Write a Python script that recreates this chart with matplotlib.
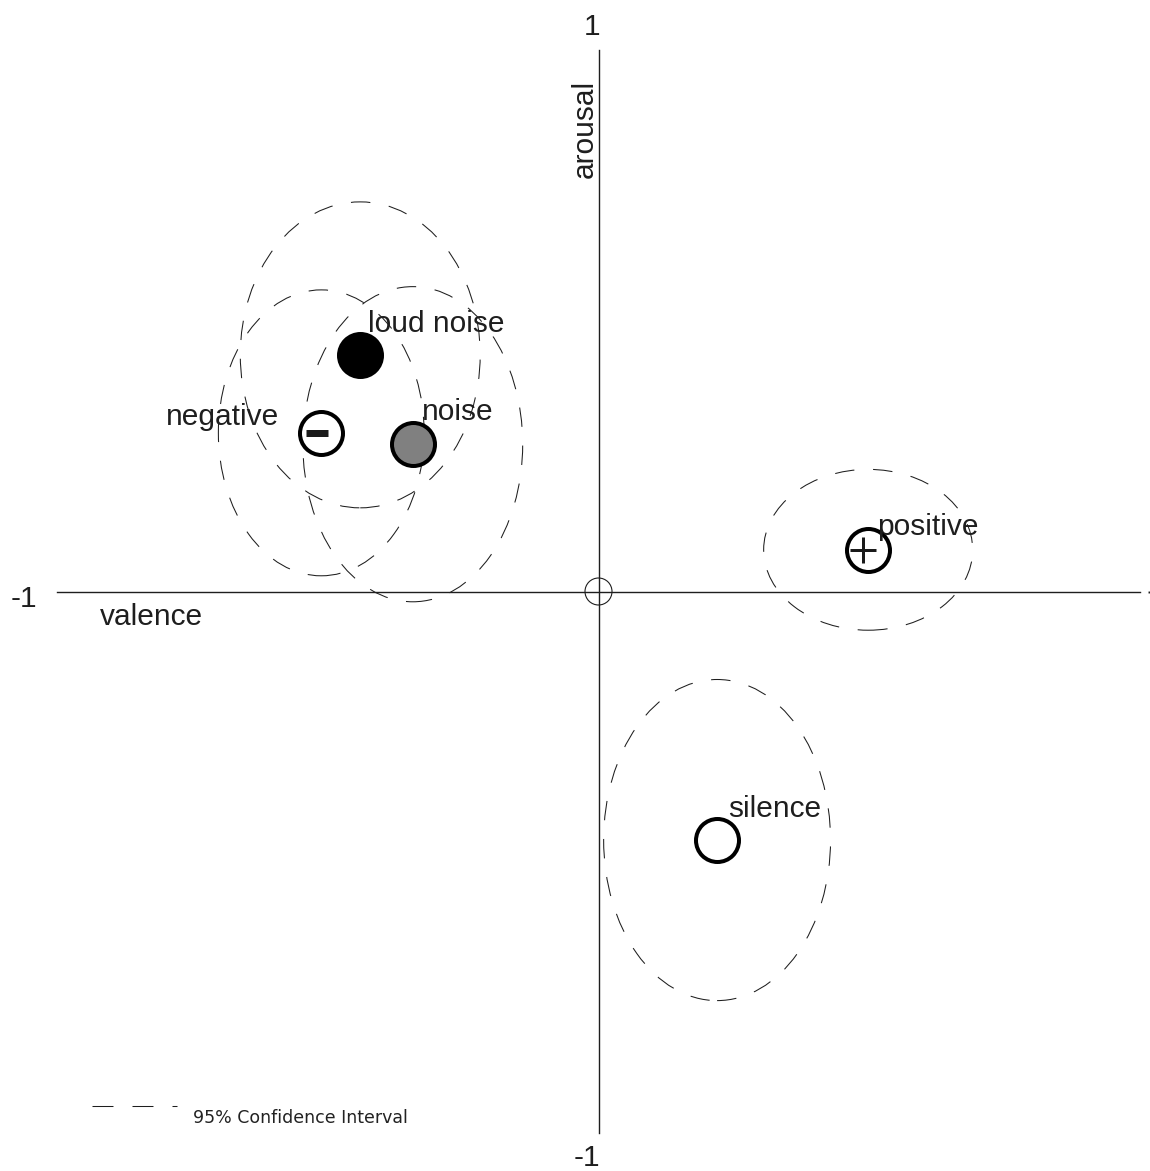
import matplotlib
matplotlib.use("Agg")
import matplotlib.pyplot as plt
from matplotlib.patches import Ellipse
from matplotlib.lines import Line2D
from matplotlib import transforms

plt.rcParams['lines.scale_dashes'] = False

# condition means in the valence/arousal plane
conditions = ["loud noise", "negative", "noise", "positive", "silence"]
valence = [-0.440, -0.512, -0.343, 0.498, 0.219]
arousal = [0.437, 0.293, 0.272, 0.077, -0.459]
# 95% confidence ellipse extents (full width along valence, full height along arousal)
ci_width = [0.443, 0.380, 0.406, 0.386, 0.419]
ci_height = [0.565, 0.528, 0.582, 0.297, 0.593]

face = {"loud noise": "black", "negative": "white", "noise": "#808080",
        "positive": "white", "silence": "white"}
# label offsets from the marker (points) and alignment
label_pos = {"loud noise": ((5.8, 16.6), "left"),
             "negative": ((-30.0, 5.8), "right"),
             "noise": ((6.5, 17.3), "left"),
             "positive": ((6.5, 10.8), "left"),
             "silence": ((7.9, 16.6), "left")}

W, H, DPI = 1150, 1171, 100
PX = 541.5  # pixels per unit
fig = plt.figure(figsize=(W / DPI, H / DPI), dpi=DPI)
ax = fig.add_axes([0, 0, 1, 1])
ax.set_xlim(-598.5 / PX, (W - 598.5) / PX)
ax.set_ylim(-(H - 591.5) / PX, 591.5 / PX)
ax.axis("off")

ink = "#1e1e1e"
lab_font = dict(family=["Liberation Sans", "DejaVu Sans"], size=21.5, color=ink)

# axes cross
ax.plot([-1, 1], [0, 0], color=ink, lw=1.0, zorder=1)
ax.plot([0, 0], [-1, 1], color=ink, lw=1.0, zorder=1)
ax.plot([1.0166], [0], marker="s", ms=1.4, color=ink, mew=0)
ax.scatter([0], [0], s=(27 * 0.72) ** 2, facecolors="none", edgecolors=ink,
           linewidths=0.8, zorder=2)

# confidence ellipses
for x, y, w, h in zip(valence, arousal, ci_width, ci_height):
    ax.add_patch(Ellipse((x, y), w, h, fill=False, edgecolor=ink, lw=0.75,
                         linestyle=(0, (14.0, 13.5)), zorder=3))

# condition markers
for name, x, y in zip(conditions, valence, arousal):
    ax.scatter([x], [y], s=(43 * 0.72) ** 2, facecolors=face[name],
               edgecolors="black", linewidths=4 * 0.72, zorder=4)
    (dx, dy), ha = label_pos[name]
    ax.annotate(name, (x, y), xytext=(dx, dy), textcoords="offset points",
                ha=ha, va="baseline", zorder=5, **lab_font)

# signs inside the negative / positive markers
i_neg = conditions.index("negative")
i_pos = conditions.index("positive")
t_neg = transforms.offset_copy(ax.transData, fig=fig, x=-4, y=0, units="dots")
t_pos = transforms.offset_copy(ax.transData, fig=fig, x=-5, y=0, units="dots")
ax.plot([valence[i_neg]], [arousal[i_neg]], marker="_", ms=23 * 0.72,
        mew=7 * 0.72, color="#1a1a1a", transform=t_neg, zorder=6)
ax.plot([valence[i_pos]], [arousal[i_pos]], marker="+", ms=27 * 0.72,
        mew=3 * 0.72, color="#1a1a1a", transform=t_pos, zorder=6)

# axis end labels and names
def px(xp, yp):
    return xp / W, 1 - yp / H

fig.text(*px(592, 35), "1", ha="center", va="baseline", **lab_font)
fig.text(*px(587, 1166), "-1", ha="center", va="baseline", **lab_font)
fig.text(*px(24, 607), "-1", ha="center", va="baseline", **lab_font)
fig.text(*px(100, 625), "valence", ha="left", va="baseline", **lab_font)
fig.text(*px(585, 129), "arousal", ha="center", va="center", rotation=90,
         **lab_font)

# key for the dashed ellipses
(x0, y0), (x1, _) = px(92, 1106), px(177, 1106)
fig.add_artist(Line2D([x0, x1], [y0, y0], color=ink, lw=0.75,
                      linestyle=(0, (15.1, 13.7)), transform=fig.transFigure))
fig.text(*px(193, 1123), "95% Confidence Interval", ha="left", va="baseline",
         family="DejaVu Sans", size=12.5, color="#222222")

fig.savefig("out.png", dpi=DPI)
